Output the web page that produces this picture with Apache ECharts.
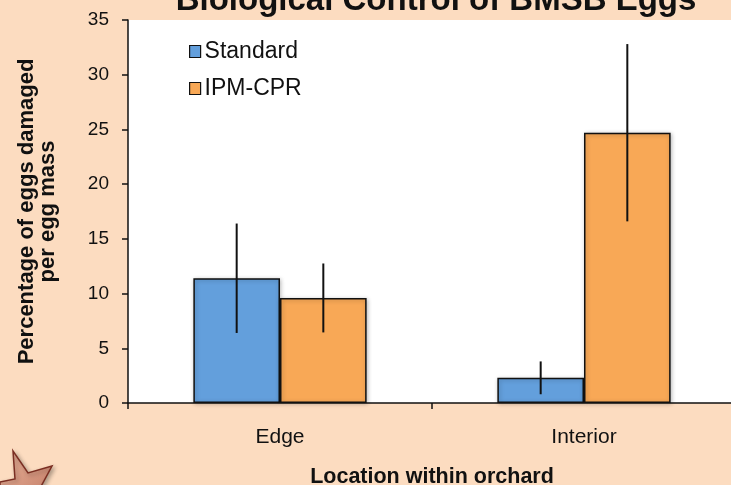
<!DOCTYPE html>
<html><head><meta charset="utf-8">
<script src="https://cdn.jsdelivr.net/npm/echarts@6/dist/echarts.min.js"></script>
<style>html,body{margin:0;padding:0;background:#fcdcc0;overflow:hidden}#c{width:731px;height:485px}</style>
</head><body><div id="c"></div>
<script>
const categories = ['Edge', 'Interior'];
const seriesNames = ['Standard', 'IPM-CPR'];
const standardMean = [11.4, 2.3];
const standardErr = [5.0, 1.5];
const ipmMean = [9.6, 24.7];
const ipmErr = [3.15, 8.1];
const yTicks = [0, 5, 10, 15, 20, 25, 30, 35];

const FONT = '"Liberation Sans", Arial, sans-serif';
const CAT_GAP = 0.43;
const chart = echarts.init(document.getElementById('c'));

function errSeries(means, errs, side) {
  return {
    type: 'custom',
    z: 10,
    silent: true,
    data: means.map((m, i) => [i, m - errs[i], m + errs[i]]),
    renderItem: function (params, api) {
      const band = api.size([1, 0])[0];
      const off = side * band * (1 - CAT_GAP) / 4;
      const lo = api.coord([api.value(0), api.value(1)]);
      const hi = api.coord([api.value(0), api.value(2)]);
      return {
        type: 'line',
        shape: { x1: lo[0] + off, y1: lo[1], x2: hi[0] + off, y2: hi[1] },
        style: { stroke: '#111', lineWidth: 2 }
      };
    }
  };
}

chart.setOption({
  backgroundColor: '#fcdcc0',
  animation: false,
  title: {
    text: 'Biological Control of BMSB Eggs',
    left: 431, top: -21, textAlign: 'center', z: 20,
    textStyle: { fontFamily: FONT, fontWeight: 'bold', fontSize: 33, color: '#111' }
  },
  legend: {
    orient: 'vertical', left: 184, top: 35,
    itemWidth: 11, itemHeight: 12, itemGap: 14,
    icon: 'rect',
    data: seriesNames,
    itemStyle: { borderColor: '#111', borderWidth: 1.2 },
    textStyle: { fontFamily: FONT, fontSize: 23, color: '#111', padding: [0, 0, 0, -1] }
  },
  grid: {
    left: 128, top: 20, width: 608, height: 383,
    outerBoundsMode: 'none', containLabel: false,
    show: true, backgroundColor: '#ffffff', borderWidth: 0
  },
  xAxis: {
    type: 'category', data: categories,
    axisLine: { lineStyle: { color: '#111', width: 1.5 } },
    axisTick: { show: true, length: 6, lineStyle: { color: '#111', width: 1.5 } },
    axisLabel: { fontFamily: FONT, fontSize: 21, color: '#111', margin: 24 },
    name: 'Location within orchard', nameLocation: 'middle', nameGap: 63,
    nameTextStyle: { fontFamily: FONT, fontSize: 21.5, fontWeight: 'bold', color: '#111' }
  },
  yAxis: {
    type: 'value', min: yTicks[0], max: yTicks[yTicks.length - 1], interval: yTicks[1] - yTicks[0],
    splitLine: { show: false },
    axisLine: { show: true, lineStyle: { color: '#111', width: 1.5 } },
    axisTick: { show: true, length: 6, lineStyle: { color: '#111', width: 1.5 } },
    axisLabel: { fontFamily: FONT, fontSize: 19, color: '#111', margin: 19 },
    name: 'Percentage of eggs damaged\nper egg mass', nameLocation: 'middle', nameGap: 70,
    nameTextStyle: { fontFamily: FONT, fontSize: 22, fontWeight: 'bold', color: '#111', lineHeight: 21 }
  },
  series: [
    {
      name: seriesNames[0], type: 'bar', data: standardMean,
      barGap: '0%', barCategoryGap: (CAT_GAP * 100) + '%',
      itemStyle: { color: '#639fdc', borderColor: '#111', borderWidth: 1.5,
        shadowBlur: 4, shadowColor: 'rgba(0,0,0,0.25)', shadowOffsetX: 1, shadowOffsetY: 1 }
    },
    {
      name: seriesNames[1], type: 'bar', data: ipmMean,
      itemStyle: { color: '#f8a856', borderColor: '#111', borderWidth: 1.5,
        shadowBlur: 4, shadowColor: 'rgba(0,0,0,0.25)', shadowOffsetX: 1, shadowOffsetY: 1 }
    },
    errSeries(standardMean, standardErr, -1),
    errSeries(ipmMean, ipmErr, 1)
  ],
  graphic: [{
    type: 'polygon', z: 100,
    shape: { points: [[0, 482], [15, 479], [13, 451], [28, 473], [52, 466], [38, 492], [0, 492]] },
    style: {
      fill: new echarts.graphic.LinearGradient(0, 0, 1, 1, [
        { offset: 0, color: '#eab39a' }, { offset: 1, color: '#c5806a' }
      ]),
      stroke: '#7a2e22', lineWidth: 1.5,
      shadowBlur: 4, shadowColor: 'rgba(0,0,0,0.3)', shadowOffsetX: 2, shadowOffsetY: 2
    }
  }]
});
</script></body></html>
